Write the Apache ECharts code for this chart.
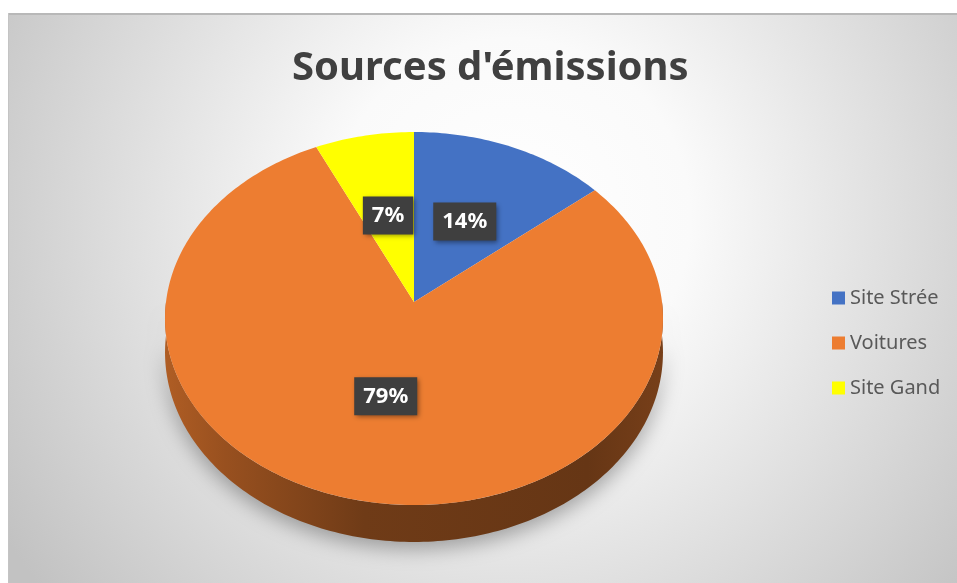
<!DOCTYPE html>
<html>
<head>
<meta charset="utf-8">
<script src="https://cdn.jsdelivr.net/npm/echarts@6/dist/echarts.min.js"></script>
<style>
  html, body { margin: 0; padding: 0; background: #ffffff; }
  #chart { width: 957px; height: 583px; }
</style>
</head>
<body>
<div id="chart"></div>
<script>
// ---- data ----
const categories = ['Site Strée', 'Voitures', 'Site Gand'];
const values = [14, 79, 7];
const colors = ['#4472C4', '#ED7D31', '#FFFF00'];
const titleText = "Sources d'émissions";

// ---- 3D pie projection settings ----
const PIE = { cx: 414, apexY: 302, R: 248, A: 158.3, C: -0.0885, depth: 33.7, labelFrac: 0.5 };
const total = values.reduce((a, b) => a + b, 0);

function proj(u, v) {
  const w = 1 + PIE.C * v;
  return [PIE.cx + PIE.R * u / w, (PIE.A * v + PIE.apexY) / w, w];
}
function arcPoint(deg, f) {
  const r = deg * Math.PI / 180;
  return proj(f * Math.sin(r), -f * Math.cos(r));
}
function shade(hex, k) {
  const n = parseInt(hex.slice(1), 16);
  const r = Math.round(((n >> 16) & 255) * k), g = Math.round(((n >> 8) & 255) * k), b = Math.round((n & 255) * k);
  return 'rgb(' + r + ',' + g + ',' + b + ')';
}

function makeRender(i) {
  return function (params, api) {
    const val = api.value(0);
    let before = 0;
    for (let j = 0; j < i; j++) before += values[j];
    const a0 = before / total * 360;
    const a1 = (before + val) / total * 360;
    const color = colors[i];
    const children = [];

    // top face
    const top = [[PIE.cx, PIE.apexY]];
    for (let a = a0; a < a1; a += 1) { const p = arcPoint(a, 1); top.push([p[0], p[1]]); }
    const pe = arcPoint(a1, 1); top.push([pe[0], pe[1]]);

    // side (front half only: 90..270 deg)
    const s0 = Math.max(a0, 90), s1 = Math.min(a1, 270);
    if (s1 > s0) {
      const upper = [], lower = [];
      const pushAt = (a) => {
        const p = arcPoint(a, 1);
        upper.push([p[0], p[1]]);
        lower.push([p[0], p[1] + PIE.depth / p[2]]);
      };
      for (let a = s0; a < s1; a += 1) pushAt(a);
      pushAt(s1);
      const side = upper.concat(lower.reverse());
      children.push({
        type: 'polygon', z2: 1,
        shape: { points: side },
        style: {
          fill: {
            type: 'linear', global: true, x: PIE.cx - PIE.R, y: 0, x2: PIE.cx + PIE.R, y2: 0,
            colorStops: [
              { offset: 0, color: shade(color, 0.74) },
              { offset: 0.12, color: shade(color, 0.64) },
              { offset: 0.4, color: shade(color, 0.47) },
              { offset: 0.85, color: shade(color, 0.43) },
              { offset: 1, color: shade(color, 0.5) }
            ]
          },
          shadowBlur: 20, shadowColor: 'rgba(0,0,0,0.32)', shadowOffsetY: 7
        }
      });
    }
    children.push({ type: 'polygon', z2: 5, shape: { points: top }, style: { fill: color } });

    // label
    const lp = arcPoint((a0 + a1) / 2, PIE.labelFrac);
    children.push({
      type: 'text', z2: 10,
      x: lp[0], y: lp[1],
      style: {
        text: Math.round(val / total * 100) + '%',
        fill: '#ffffff',
        font: 'bold 22px "Noto Sans"',
        align: 'center', verticalAlign: 'middle',
        backgroundColor: '#3f3f3f',
        padding: [8, 9, 8, 9],
        shadowBlur: 5, shadowColor: 'rgba(0,0,0,0.45)', shadowOffsetX: 2, shadowOffsetY: 2
      }
    });
    return { type: 'group', children: children };
  };
}

const chart = echarts.init(document.getElementById('chart'), null, { renderer: 'canvas' });
chart.setOption({
  animation: false,
  graphic: [
    {
      type: 'rect', z: -10, silent: true,
      shape: { x: 8, y: 13, width: 949, height: 570 },
      style: {
        fill: {
          type: 'radial', x: 0.53, y: 0.36, r: 1.05,
          colorStops: [
            { offset: 0, color: '#ffffff' },
            { offset: 0.3, color: '#fafafa' },
            { offset: 1, color: '#c2c2c2' }
          ]
        }
      }
    },
    { type: 'line', z: -9, silent: true, shape: { x1: 8, y1: 14, x2: 957, y2: 14 }, style: { stroke: '#b8b8b8', lineWidth: 2 } },
    { type: 'line', z: -9, silent: true, shape: { x1: 8.5, y1: 13, x2: 8.5, y2: 583 }, style: { stroke: '#c4c4c4', lineWidth: 1 } }
  ],
  title: {
    text: titleText,
    left: 287, top: 44,
    textStyle: { fontFamily: 'Noto Sans', fontWeight: 'bold', fontSize: 40, color: '#404040' }
  },
  legend: {
    orient: 'vertical',
    left: 827, top: 283,
    icon: 'rect',
    itemWidth: 13, itemHeight: 13, itemGap: 25,
    textStyle: { fontFamily: 'Noto Sans', fontSize: 20, color: '#595959', lineHeight: 20 },
    data: categories
  },
  series: categories.map((name, i) => ({
    type: 'custom',
    name: name,
    coordinateSystem: 'none',
    itemStyle: { color: colors[i] },
    data: [values[i]],
    renderItem: makeRender(i)
  }))
});
</script>
</body>
</html>
